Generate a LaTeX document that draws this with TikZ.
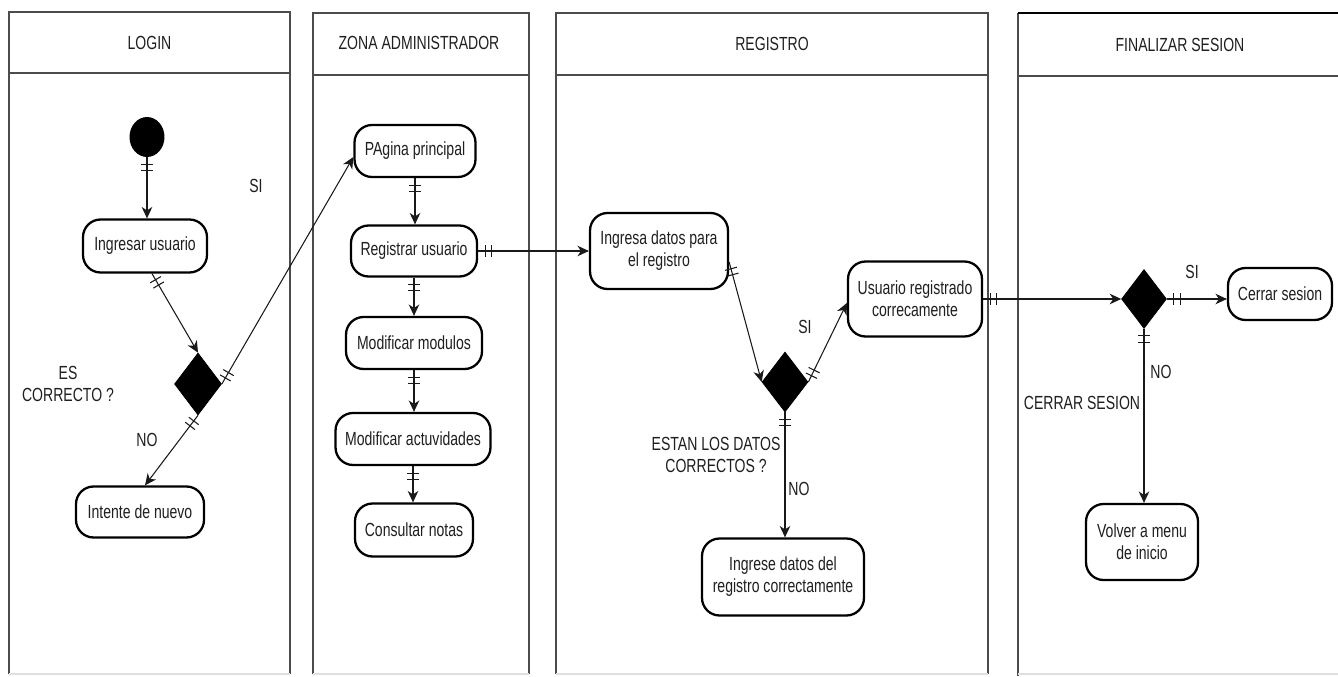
\documentclass[tikz,border=0pt]{standalone}
\usepackage{fontspec}
\setmainfont{Liberation Sans}[FakeStretch=0.74]
\usetikzlibrary{arrows.meta,shapes.geometric,calc,decorations.markings}

\begin{document}
\begin{tikzpicture}[x=0.02cm,y=-0.02cm,
  font=\fontsize{10.8pt}{12.5pt}\selectfont,
  every node/.style={text=black!88},
  lane/.style={draw=black!70, line width=0.8pt},
  laneend/.style={draw=black!12, line width=0.6pt},
  actbox/.style={draw=black, line width=1.3pt, rounded corners=10pt, align=center,
                 inner sep=2pt, fill=white},
  decision/.style={diamond, fill=black, draw=black, inner sep=0pt},
  flow/.style={draw=black!90, line width=0.6pt, -{Stealth[length=6.5pt,width=6pt,inset=2pt]}},
  bars/.style={flow, decoration={markings,
     mark=at position 4pt with {\draw[-, line width=0.6pt] (0pt,-3.5pt) -- (0pt,3.5pt);},
     mark=at position 7.5pt with {\draw[-, line width=0.6pt] (0pt,-3.5pt) -- (0pt,3.5pt);}},
     postaction={decorate}},
  lbl/.style={align=center, inner sep=1pt}]

% page
\path[use as bounding box, fill=white] (0,0) rectangle (1338,676);

% swimlanes
\draw[lane] (9,674) -- (9,12) -- (290,12) -- (290,674);
\draw[lane] (9,73) -- (290,73);
\draw[laneend] (9,674) -- (290,674);

\draw[lane] (313,674) -- (313,13) -- (529,13) -- (529,674);
\draw[lane] (313,75) -- (529,75);
\draw[laneend] (313,674) -- (529,674);

\draw[lane] (556,674) -- (556,13) -- (988,13) -- (988,674);
\draw[lane] (556,75) -- (988,75);
\draw[laneend] (556,674) -- (988,674);

\draw[lane] (1018,676) -- (1018,13);
\draw[lane] (1018,76) -- (1340,76);
\draw[line width=1.6pt] (1018,13) -- (1340,13);
\draw[laneend] (1018,674) -- (1340,674);

\node (hlogin) at (149.5,43) {LOGIN};
\node (hzona)  at (419,43) {ZONA ADMINISTRADOR};
\node (hreg)   at (772,44) {REGISTRO};
\node (hfin)   at (1180,45) {FINALIZAR SESION};

% LOGIN
\node[ellipse, fill=black, minimum width=0.70cm, minimum height=0.80cm, inner sep=0pt] (start) at (147,137) {};
\node[actbox, minimum width=2.48cm, minimum height=1.06cm] (ing) at (145,246) {Ingresar usuario};
\node[decision, minimum width=0.94cm, minimum height=1.24cm] (d1) at (198,384) {};
\node[actbox, minimum width=2.56cm, minimum height=1.02cm] (int) at (140,512) {Intente de nuevo};

% ZONA ADMINISTRADOR
\node[actbox, minimum width=2.42cm, minimum height=1.04cm] (pag)  at (415,151) {PAgina principal};
\node[actbox, minimum width=2.52cm, minimum height=1.02cm] (reg)  at (414,251) {Registrar usuario};
\node[actbox, minimum width=2.72cm, minimum height=1.04cm] (mmod) at (414,343) {Modificar modulos};
\node[actbox, minimum width=3.10cm, minimum height=1.04cm] (mact) at (413,439) {Modificar actuvidades};
\node[actbox, minimum width=2.36cm, minimum height=1.06cm] (cons) at (414,530) {Consultar notas};

% REGISTRO
\node[actbox, minimum width=2.76cm, minimum height=1.52cm] (ingr)  at (659,251) {Ingresa datos para\\el registro};
\node[decision, minimum width=0.92cm, minimum height=1.20cm] (d2) at (785,382) {};
\node[actbox, minimum width=2.68cm, minimum height=1.50cm] (usr)   at (915,299) {Usuario registrado\\correcamente};
\node[actbox, minimum width=3.24cm, minimum height=1.54cm] (ingre) at (783,577) {Ingrese datos del\\registro correctamente};

% FINALIZAR SESION
\node[decision, minimum width=0.90cm, minimum height=1.18cm] (d3) at (1144,299) {};
\node[actbox, minimum width=2.08cm, minimum height=1.04cm] (cer) at (1280,294) {Cerrar sesion};
\node[actbox, minimum width=2.24cm, minimum height=1.52cm] (vol) at (1142,542) {Volver a menu\\de inicio};

% labels
\node[lbl] (lsi1) at (256,186) {SI};
\node[lbl] (lq1)  at (68,384) {ES\\CORRECTO ?};
\node[lbl] (lno1) at (147,440) {NO};
\node[lbl] (lsi2) at (805,327) {SI};
\node[lbl] (lq2)  at (716,455) {ESTAN LOS DATOS\\CORRECTOS ?};
\node[lbl] (lno2) at (799,489) {NO};
\node[lbl] (lsi3) at (1192,272) {SI};
\node[lbl] (lno3) at (1161,372) {NO};
\node[lbl] (lcs)  at (1082,403) {CERRAR SESION};

% connectors
\draw[bars] (start.south) -- (start.south |- ing.north);
\draw[bars] ($(ing.south)+(7,0)$) -- (d1.north);
\draw[bars] (d1.south) -- ($(int.north)+(5,0)$);
\draw[bars] (d1.east) -- ($(pag.west)+(0,6)$);

\draw[bars] (pag.south) -- (pag.south |- reg.north);
\draw[bars] (reg.south) -- (reg.south |- mmod.north);
\draw[bars] (mmod.south) -- (mmod.south |- mact.north);
\draw[bars] (mact.south) -- (mact.south |- cons.north);
\draw[bars] (reg.east) -- (reg.east -| ingr.west);

\draw[bars] ($(ingr.east)+(0,11)$) -- (d2.west);
\draw[bars] (d2.east) -- ($(usr.west)+(0,4)$);
\draw[bars] (d2.south) -- (d2.south |- ingre.north);

\draw[bars] (usr.east) -- (d3.west);
\draw[bars] (d3.east) -- (d3.east -| cer.west);
\draw[bars] (d3.south) -- (d3.south |- vol.north);

\end{tikzpicture}
\end{document}
